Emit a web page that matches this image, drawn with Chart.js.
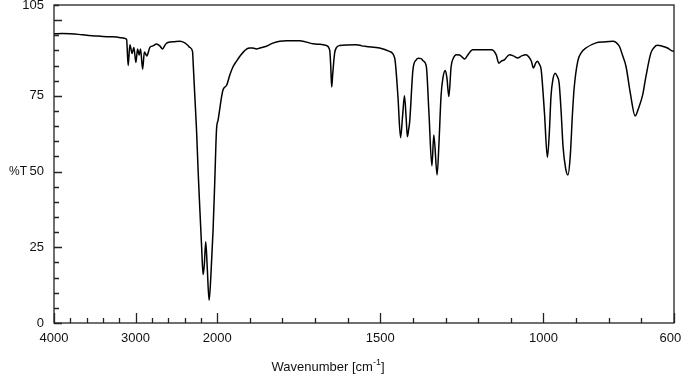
<!DOCTYPE html>
<html>
<head>
<meta charset="utf-8">
<script src="https://cdn.jsdelivr.net/npm/chart.js@4/dist/chart.umd.min.js"></script>
<style>
  html, body { margin: 0; padding: 0; background: #fff; }
  canvas { display: block; }
</style>
</head>
<body>
<canvas id="c" width="683" height="376"></canvas>
<script>
// ---- Data ----
const wavenumbers = [
  4000, 3900, 3800, 3700, 3600, 3500, 3400, 3300, 3200, 3140, 3110,
  3091, 3070, 3042, 3021, 2996, 2976, 2956, 2939, 2914, 2892, 2862,
  2825, 2788, 2743, 2703, 2670, 2633, 2605, 2519, 2458, 2397, 2360,
  2335, 2302, 2294, 2274, 2253, 2233, 2213, 2192, 2172, 2158, 2140,
  2121, 2099, 2078, 2050, 2029, 2008,
  1997, 1982, 1971, 1961, 1951, 1941, 1931, 1910, 1900, 1891, 1879,
  1869, 1849, 1829, 1808, 1788, 1747, 1706, 1685, 1665, 1655, 1652,
  1649, 1646, 1640, 1634, 1625, 1573, 1557, 1543, 1502, 1472, 1456,
  1446, 1438, 1432, 1426, 1421, 1417, 1413, 1410, 1400, 1390, 1383,
  1375, 1368, 1359, 1351, 1342, 1336, 1326, 1320, 1314, 1308, 1301,
  1296, 1290, 1283, 1276, 1267, 1257, 1241, 1232, 1217, 1160, 1145,
  1137, 1129, 1120, 1104, 1092, 1079, 1067, 1053, 1046, 1037, 1031,
  1024, 1018, 1013, 1007, 997, 988, 982, 977, 971, 964, 958,
  952, 946, 940, 932, 925, 918, 911, 906, 895, 884, 870,
  839, 814, 788, 777, 767, 758, 747, 734, 719, 710, 696,
  686, 671, 661, 651, 636, 620, 602, 600
];
const transmittance = [
  95.5, 95.6, 95.5, 95.3, 95.0, 94.8, 94.6, 94.5, 94.3, 94.0, 93.6,
  85.0, 91.9, 89.0, 91.0, 86.0, 90.5, 88.5, 90.5, 83.8, 89.5, 88.2,
  91.0, 91.5, 92.1, 91.5, 90.5, 92.0, 92.6, 92.9, 93.0, 92.5, 91.7,
  91.0, 89.7, 85.8, 75.0, 63.8, 50.0, 38.0, 26.0, 16.0, 19.0, 26.8,
  18.0, 7.5, 15.0, 30.7, 47.0, 63.8,
  67.1, 77.0, 78.5, 82.0, 84.7, 86.4, 88.0, 90.4, 90.8, 90.8, 90.5,
  90.8, 91.4, 92.4, 93.0, 93.2, 93.2, 92.2, 92.0, 91.6, 90.0, 85.0,
  77.9, 82.0, 89.1, 91.0, 91.6, 91.9, 91.5, 91.3, 90.8, 89.7, 87.5,
  74.8, 61.2, 68.0, 75.0, 68.0, 61.5, 64.0, 66.5, 83.6, 86.9, 87.4,
  87.3, 86.5, 84.7, 69.4, 51.9, 62.1, 48.9, 60.0, 74.8, 81.0, 83.4,
  81.0, 74.8, 84.7, 87.5, 88.6, 88.5, 87.2, 88.5, 90.2, 90.2, 88.6,
  85.8, 86.5, 86.9, 88.6, 88.2, 87.5, 88.2, 88.6, 88.0, 86.4, 84.2,
  85.8, 86.4, 85.5, 83.6, 69.4, 54.7, 63.0, 74.8, 80.5, 82.5, 81.5,
  79.2, 70.0, 58.2, 51.0, 48.9, 55.0, 69.4, 77.5, 86.4, 89.3, 90.8,
  92.5, 92.8, 93.0, 92.6, 91.3, 88.5, 84.7, 76.0, 68.4, 70.5, 75.3,
  81.4, 89.1, 91.0, 91.7, 91.4, 90.8, 89.7, 89.7
];
const xTickValues = [
  4000, 3800, 3600, 3400, 3200, 3000, 2800, 2600, 2400, 2200, 2000,
  1900, 1800, 1700, 1600, 1500, 1400, 1300, 1200, 1100, 1000,
  900, 800, 700, 600
];
const xTickLabels = [4000, 3000, 2000, 1500, 1000, 600];
const yTickLabels = [0, 25, 50, 75, 105];
const yMajorTicks = [0, 25, 50, 75, 100];

// Axis has a scale change at 2000 cm-1 (below 2000, 4x the spread per cm-1)
const toU = w => (w >= 2000 ? 4000 - w : 2000 + 4 * (2000 - w));
const toW = u => (u <= 2000 ? 4000 - u : 2000 - (u - 2000) / 4);

const points = wavenumbers.map((w, i) => ({ x: toU(w), y: transmittance[i] }));

const FONT = "'Liberation Sans', Arial, sans-serif";
const AXIS_COLOR = '#222';

const framePlugin = {
  id: 'frameTicks',
  afterDraw(chart) {
    const { ctx, chartArea: a, scales: { x, y } } = chart;
    ctx.save();
    ctx.strokeStyle = AXIS_COLOR;
    ctx.lineWidth = 1.3;
    ctx.strokeRect(a.left, a.top, a.right - a.left, a.bottom - a.top);
    ctx.beginPath();
    x.ticks.forEach(t => {
      const px = Math.round(x.getPixelForValue(t.value)) + 0.5;
      const major = xTickLabels.includes(Math.round(toW(t.value)));
      ctx.moveTo(px, a.bottom);
      ctx.lineTo(px, a.bottom - (major ? 10 : 5));
    });
    y.ticks.forEach(t => {
      const py = Math.round(y.getPixelForValue(t.value)) + 0.5;
      const major = yMajorTicks.includes(t.value);
      ctx.moveTo(a.left, py);
      ctx.lineTo(a.left + (major ? 8 : 5), py);
    });
    ctx.stroke();

    // axis titles
    ctx.fillStyle = '#111';
    ctx.textBaseline = 'middle';
    ctx.textAlign = 'left';
    ctx.font = '12px ' + FONT;
    ctx.fillText('%T', 9, y.getPixelForValue(50));

    const base = 'Wavenumber [cm';
    const sup = '-1';
    const end = ']';
    const ty = 367;
    ctx.font = '13px ' + FONT;
    const w1 = ctx.measureText(base).width;
    ctx.font = '9px ' + FONT;
    const w2 = ctx.measureText(sup).width;
    ctx.font = '13px ' + FONT;
    const w3 = ctx.measureText(end).width;
    const total = w1 + w2 + w3;
    const sx = (a.left + a.right) / 2 - 36 - total / 2;
    ctx.fillText(base, sx, ty);
    ctx.font = '9px ' + FONT;
    ctx.fillText(sup, sx + w1, ty - 4);
    ctx.font = '13px ' + FONT;
    ctx.fillText(end, sx + w1 + w2, ty);
    ctx.restore();
  }
};

new Chart(document.getElementById('c'), {
  type: 'line',
  data: {
    datasets: [{
      data: points,
      borderColor: '#000',
      borderWidth: 1.5,
      pointRadius: 0,
      fill: false,
      cubicInterpolationMode: 'monotone'
    }]
  },
  options: {
    responsive: false,
    devicePixelRatio: 1,
    animation: false,
    layout: { padding: { top: 5, right: 9, left: 0, bottom: 0 } },
    plugins: { legend: { display: false }, tooltip: { enabled: false } },
    scales: {
      x: {
        type: 'linear',
        min: toU(4000),
        max: toU(600),
        afterBuildTicks: s => { s.ticks = xTickValues.map(w => ({ value: toU(w) })); },
        afterFit: s => { s.height = 53; s.paddingLeft = 0; s.paddingRight = 0; },
        grid: { display: false, drawTicks: false },
        border: { display: false },
        ticks: {
          autoSkip: false,
          maxRotation: 0,
          padding: 8,
          color: '#111',
          font: { family: FONT, size: 13 },
          callback: v => {
            const w = Math.round(toW(v));
            if (!xTickLabels.includes(w)) return '';
            return w === 600 ? '600  ' : String(w);
          }
        }
      },
      y: {
        min: 0,
        max: 105,
        afterFit: s => { s.width = 54; s.paddingTop = 0; s.paddingBottom = 0; },
        grid: { display: false, drawTicks: false },
        border: { display: false },
        ticks: {
          stepSize: 5,
          autoSkip: false,
          padding: 10,
          color: '#111',
          font: { family: FONT, size: 13 },
          callback: v => (yTickLabels.includes(v) ? String(v) : '')
        }
      }
    }
  },
  plugins: [framePlugin]
});
</script>
</body>
</html>
